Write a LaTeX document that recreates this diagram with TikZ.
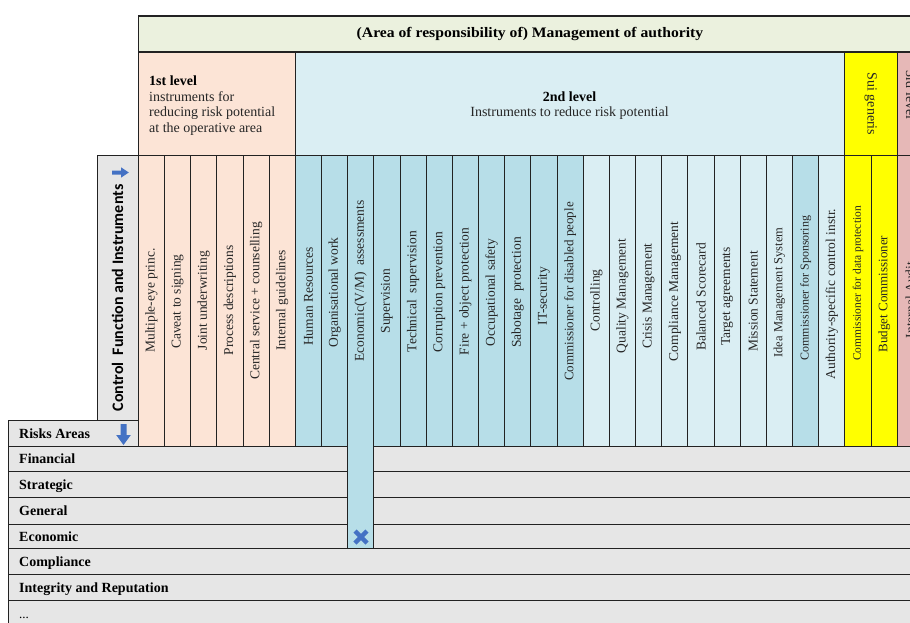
\documentclass[tikz,border=0pt]{standalone}
\usepackage{fontspec}
\setmainfont{Liberation Serif}
\newfontfamily\carlito{Carlito}
\definecolor{hdrgreen}{HTML}{EBF1DE}
\definecolor{peach}{HTML}{FCE4D6}
\definecolor{lblue}{HTML}{DAEEF3}
\definecolor{dblue}{HTML}{B7DEE8}
\definecolor{ylw}{HTML}{FFFF00}
\definecolor{pinkc}{HTML}{E6B8B7}
\definecolor{greyc}{HTML}{E6E6E6}
\definecolor{arrowblue}{HTML}{4472C4}
\definecolor{ink}{HTML}{262626}
\definecolor{linec}{HTML}{222222}
\newcommand\vmlabel{Economic(V/M)\ \ assessments}
\newcommand\fsz[1]{\fontsize{#1}{#1}\selectfont}
\tikzset{
 cellbox/.style={draw=linec, line width=0.9pt},
 collabel/.style={rotate=90, inner sep=0pt, text=ink},
 rowlabel/.style={anchor=base west, inner sep=0pt, font=\bfseries\fsz{14}, text=black},
 headtext/.style={inner sep=0pt, anchor=base, text=ink},
}
\begin{document}
\begin{tikzpicture}[x=1pt,y=-1pt]
\useasboundingbox (0,0) rectangle (910,622);
\fill[white] (0,0) rectangle (910,622);
\begin{scope}
\clip (0,0) rectangle (910,622);
% top header
\draw[cellbox, fill=hdrgreen, line width=1.3pt] (138.3,16) rectangle (940,52);
\node[inner sep=0pt, font=\bfseries\fsz{14.5}] (title) at (530,34) {\scalebox{1.08}[1]{(Area of responsibility of) Management of authority}};
% level boxes
\draw[cellbox, fill=peach] (138.3,52) rectangle (295,155);
\draw[cellbox, fill=lblue] (295,52) rectangle (844.3,155);
\draw[cellbox, fill=ylw] (844.3,52) rectangle (897.2,155);
\draw[cellbox, fill=pinkc] (897.2,52) rectangle (960,155);
\node[headtext, anchor=base west, text=black, font=\bfseries\fsz{14}] (l1a) at (149,85) {1st level};
\node[headtext, anchor=base west, font=\fsz{14}] (l1b) at (149,101) {instruments for};
\node[headtext, anchor=base west, font=\fsz{14}] (l1c) at (149,116.5) {reducing risk potential};
\node[headtext, anchor=base west, font=\fsz{14}] (l1d) at (149,132) {at the operative area};
\node[headtext, text=black, font=\bfseries\fsz{14}] (l2a) at (569.5,101) {2nd level};
\node[headtext, font=\fsz{14}] (l2b) at (569.5,116.5) {Instruments to reduce risk potential};
\node[rotate=-90, inner sep=0pt, text=ink, font=\fsz{14}] (sui) at (870.7,104) {Sui generis};
\node[rotate=-90, inner sep=0pt, text=ink, font=\fsz{14}] (l3) at (911,95) {3rd level};
% rows
\foreach \lab/\ya/\yb [count=\j] in {Financial/446/471.7, Strategic/471.7/497.7, General/497.7/524, Economic/524/548.7}{
  \draw[cellbox, fill=greyc] (8,\ya) rectangle (347.66,\yb);
  \draw[cellbox, fill=greyc] (373.83,\ya) rectangle (940,\yb);
  \node[rowlabel] (row\j) at (19,{(\ya+\yb)/2+5}) {\lab};
}
\foreach \lab/\ya/\yb [count=\j from 5] in {Compliance/548.7/574.3, Integrity and Reputation/574.3/600}{
  \draw[cellbox, fill=greyc] (8,\ya) rectangle (940,\yb);
  \node[rowlabel] (row\j) at (19,{(\ya+\yb)/2+5}) {\lab};
}
\draw[cellbox, fill=greyc] (8,600) rectangle (940,650);
\node[rowlabel, font=\fsz{13}] (row7) at (19,618) {...};
% control function box and risks areas
\draw[cellbox, fill=greyc] (97,155) rectangle (138.3,420.7);
\draw[cellbox, fill=greyc] (8,420.7) rectangle (138.3,446);
\node[rotate=90, inner sep=0pt, font=\carlito\bfseries\fsz{16}] (ctrl) at (117.5,298) {Control\ \ Function and Instruments};
\node[rowlabel] (risks) at (19,438.5) {Risks Areas};
% columns
\foreach \lab/\fcol/\fsv/\yc [count=\i from 0] in {
Multiple-eye princ./peach/13.5/300.5,
Caveat to signing/peach/13.5/301.5,
Joint underwriting/peach/13.5/300.5,
Process descriptions/peach/13.5/300.5,
Central service + counselling/peach/13.5/301,
Internal guidelines/peach/13.5/300.5,
Human Resources/dblue/13.5/296.5,
Organisational work/dblue/13.5/292.5,
\vmlabel/dblue/13.5/281,
Supervision/dblue/13.5/301,
Technical\ \ supervision/dblue/13.5/291.5,
Corruption prevention/dblue/13.5/292,
Fire + object protection/dblue/13.5/291.5,
Occupational safety/dblue/13.5/292.5,
Sabotage\ \ protection/dblue/13.5/292.5,
IT-security/dblue/13.5/296,
Commissioner for disabled people/dblue/13/291.5,
Controlling/lblue/13.5/300.5,
Quality Management/lblue/13.5/296,
Crisis Management/lblue/13.5/296,
Compliance Management/lblue/13.5/291.5,
Balanced Scorecard/lblue/13.5/297,
Target agreements/lblue/13.5/296.5,
Mission Statement/lblue/13.5/301.5,
Idea Management System/lblue/12.5/292.5,
Commissioner for Sponsoring/dblue/12/288,
Authority-specific control instr./lblue/13.5/294,
Commissioner for data protection/ylw/11.5/283.5,
Budget Commissioner/ylw/13/294,
Internal Audit/pinkc/13.5/300}{
  \pgfmathsetmacro\xl{138.3+26.17*\i}
  \pgfmathsetmacro\xr{\xl+26.17}
  \pgfmathsetmacro\xc{\xl+13.085}
  \pgfmathsetmacro\ybt{ifthenelse(\i==8,548.7,446)}
  \draw[cellbox, fill=\fcol] (\xl,155) rectangle (\xr,\ybt);
  \node[collabel, font=\fsz{\fsv}] (col\i) at (\xc,\yc) {\lab};
}
% arrows and mark
\fill[arrowblue] (112,170.5) -- (121,170.5) -- (121,167.3) -- (128.8,172.5) -- (121,177.7) -- (121,174.5) -- (112,174.5) -- cycle;
\fill[arrowblue] (120.5,424) -- (126.5,424) -- (126.5,435) -- (130.8,435) -- (123.5,445) -- (116.2,435) -- (120.5,435) -- cycle;
\draw[arrowblue, line width=4.5pt] (355,531) -- (367,543) (355,543) -- (367,531);
\end{scope}
\end{tikzpicture}
\end{document}
